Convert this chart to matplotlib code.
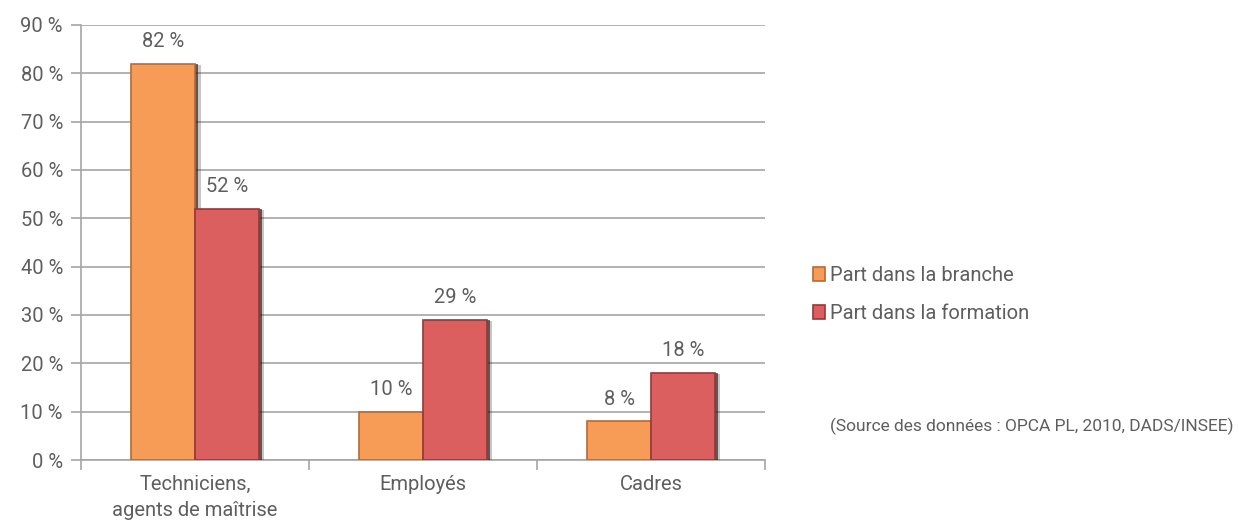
import numpy as np
import matplotlib; matplotlib.use("Agg")
import matplotlib.pyplot as plt
import matplotlib.patheffects as pe

categories = ["Techniciens,\nagents de maîtrise", "Employés", "Cadres"]
branche = [82, 10, 8]
formation = [52, 29, 18]
series_names = ["Part dans la branche", "Part dans la formation"]
yticks = [0, 10, 20, 30, 40, 50, 60, 70, 80, 90]

TXT = "#5e5e5e"; GRID = "#a6a6a6"
ORANGE = "#f79c56"; RED = "#db5f5e"
plt.rcParams["font.family"] = ["Roboto", "DejaVu Sans"]
FS = 14.5

fig = plt.figure(figsize=(12.39, 5.26), dpi=100)
ax = fig.add_axes([81/1239, 66/526, 684/1239, 435/526])

x = np.arange(len(categories))
w = 0.28
# soft drop shadow to the right of each bar, then the bar itself
shadow = [pe.SimplePatchShadow(offset=(4, -1), shadow_rgbFace="#2a1a14", alpha=0.25),
          pe.SimplePatchShadow(offset=(2, 0), shadow_rgbFace="#2a1a14", alpha=0.65),
          pe.Normal()]
b1 = ax.bar(x - w/2, branche, w, color=ORANGE, edgecolor="#b86a34", linewidth=1.2,
            path_effects=shadow, zorder=3, label=series_names[0])
b2 = ax.bar(x + w/2, formation, w, color=RED, edgecolor="#963838", linewidth=1.2,
            path_effects=shadow, zorder=3, label=series_names[1])
for bars, vals in ((b1, branche), (b2, formation)):
    for r, v in zip(bars, vals):
        ax.text(r.get_x() + r.get_width()/2, v + 2.6, f"{v} %", ha="center", va="bottom",
                fontsize=FS, color=TXT)

ax.set_xlim(-0.5, 2.5); ax.set_ylim(0, 90)
ax.set_yticks(yticks)
ax.set_yticklabels([f"{t} %" for t in yticks], fontsize=FS, color=TXT)
ax.set_xticks(x)
ax.set_xticklabels(categories, fontsize=FS, color=TXT, linespacing=1.45)
ax.tick_params(axis="x", length=0, pad=11)
ax.set_xticks([-0.5, 0.5, 1.5, 2.5], minor=True)
ax.tick_params(axis="x", which="minor", length=7, color=GRID, width=1.2)
ax.tick_params(axis="y", length=7, color=GRID, width=1.2, pad=6)
ax.grid(axis="y", color=GRID, linewidth=1.2, zorder=0)
for s in ("top", "right"): ax.spines[s].set_visible(False)
for s in ("left", "bottom"): ax.spines[s].set_color(GRID); ax.spines[s].set_linewidth(1.2)

leg = fig.legend(handles=[b1, b2], labels=series_names, loc="upper left",
                 bbox_to_anchor=(795/1239, 1 - 248/526), frameon=False, fontsize=FS,
                 labelcolor=TXT, handlelength=0.6, handleheight=0.7, handletextpad=0.25,
                 labelspacing=0.95)
for h in leg.legend_handles: h.set_path_effects([])

fig.text(1233/1239, 1 - 426/526, "(Source des données : OPCA PL, 2010, DADS/INSEE)",
         ha="right", va="center", fontsize=12.5, color=TXT)

fig.savefig("out.png", dpi=100)
